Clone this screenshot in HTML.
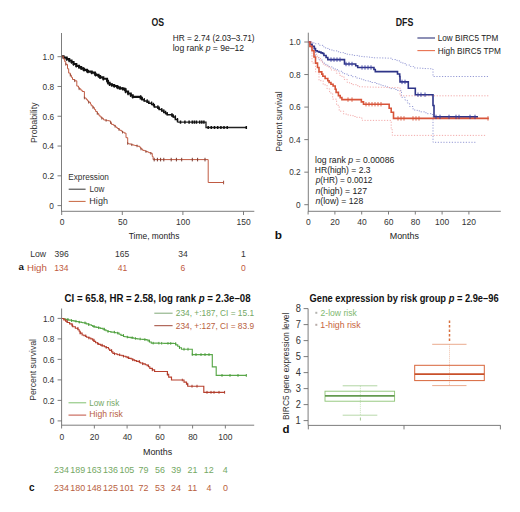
<!DOCTYPE html>
<html><head><meta charset="utf-8"><style>html,body{margin:0;padding:0;background:#fff;}svg{display:block;font-family:"Liberation Sans",sans-serif;}</style></head>
<body><svg width="520" height="512" viewBox="0 0 520 512" font-family="Liberation Sans, sans-serif">
<rect width="520" height="512" fill="#fff"/>
<text x="151.50" y="26.10" font-size="10.8" fill="#1a1a1a" font-weight="bold" textLength="12.59" lengthAdjust="spacingAndGlyphs">OS</text>
<text x="172.71" y="40.50" font-size="8.4" fill="#222" textLength="81.90" lengthAdjust="spacingAndGlyphs">HR = 2.74 (2.03–3.71)</text>
<text x="172.69" y="50.80" font-size="8.4" fill="#222" textLength="71.46" lengthAdjust="spacingAndGlyphs">log rank <tspan font-style="italic">p</tspan> = 9e–12</text>
<line x1="61.50" y1="33.00" x2="61.50" y2="211.50" stroke="#6e6e6e" stroke-width="0.9"/>
<line x1="57.50" y1="56.70" x2="61.50" y2="56.70" stroke="#6e6e6e" stroke-width="0.9"/>
<text x="42.60" y="60.00" font-size="9.8" fill="#333" textLength="11.51" lengthAdjust="spacingAndGlyphs">1.0</text>
<line x1="57.50" y1="86.48" x2="61.50" y2="86.48" stroke="#6e6e6e" stroke-width="0.9"/>
<text x="42.60" y="89.78" font-size="9.8" fill="#333" textLength="11.51" lengthAdjust="spacingAndGlyphs">0.8</text>
<line x1="57.50" y1="116.26" x2="61.50" y2="116.26" stroke="#6e6e6e" stroke-width="0.9"/>
<text x="42.60" y="119.56" font-size="9.8" fill="#333" textLength="11.51" lengthAdjust="spacingAndGlyphs">0.6</text>
<line x1="57.50" y1="146.04" x2="61.50" y2="146.04" stroke="#6e6e6e" stroke-width="0.9"/>
<text x="42.39" y="149.34" font-size="9.8" fill="#333" textLength="11.51" lengthAdjust="spacingAndGlyphs">0.4</text>
<line x1="57.50" y1="175.82" x2="61.50" y2="175.82" stroke="#6e6e6e" stroke-width="0.9"/>
<text x="42.60" y="179.12" font-size="9.8" fill="#333" textLength="11.51" lengthAdjust="spacingAndGlyphs">0.2</text>
<line x1="57.50" y1="205.60" x2="61.50" y2="205.60" stroke="#6e6e6e" stroke-width="0.9"/>
<text x="49.36" y="208.90" font-size="9.8" fill="#333" textLength="4.61" lengthAdjust="spacingAndGlyphs">0</text>
<line x1="61.20" y1="211.30" x2="254.30" y2="211.30" stroke="#6e6e6e" stroke-width="0.9"/>
<line x1="61.70" y1="211.30" x2="61.70" y2="215.00" stroke="#6e6e6e" stroke-width="0.9"/>
<text x="59.72" y="225.30" font-size="9.4" fill="#333" textLength="4.73" lengthAdjust="spacingAndGlyphs">0</text>
<line x1="122.30" y1="211.30" x2="122.30" y2="215.00" stroke="#6e6e6e" stroke-width="0.9"/>
<text x="117.94" y="225.30" font-size="9.4" fill="#333" textLength="9.46" lengthAdjust="spacingAndGlyphs">50</text>
<line x1="182.90" y1="211.30" x2="182.90" y2="215.00" stroke="#6e6e6e" stroke-width="0.9"/>
<text x="175.94" y="225.30" font-size="9.4" fill="#333" textLength="14.18" lengthAdjust="spacingAndGlyphs">100</text>
<line x1="243.50" y1="211.30" x2="243.50" y2="215.00" stroke="#6e6e6e" stroke-width="0.9"/>
<text x="236.54" y="225.30" font-size="9.4" fill="#333" textLength="14.18" lengthAdjust="spacingAndGlyphs">150</text>
<text x="128.78" y="238.65" font-size="9.4" fill="#222" textLength="50.59" lengthAdjust="spacingAndGlyphs">Time, months</text>
<text x="36.70" y="143.05" font-size="8.7" fill="#333" textLength="40.61" lengthAdjust="spacingAndGlyphs" transform="rotate(-90 36.70 143.05)">Probability</text>
<text x="68.26" y="179.50" font-size="8.4" fill="#333" textLength="40.67" lengthAdjust="spacingAndGlyphs">Expression</text>
<line x1="68.70" y1="189.20" x2="85.60" y2="189.20" stroke="#333" stroke-width="1.0"/>
<text x="89.42" y="191.90" font-size="8.4" fill="#333" textLength="14.86" lengthAdjust="spacingAndGlyphs">Low</text>
<line x1="68.70" y1="201.40" x2="85.60" y2="201.40" stroke="#c8653f" stroke-width="1.0"/>
<text x="89.36" y="204.00" font-size="8.4" fill="#333" textLength="18.56" lengthAdjust="spacingAndGlyphs">High</text>
<text x="30.16" y="256.70" font-size="8.8" fill="#333" textLength="15.98" lengthAdjust="spacingAndGlyphs">Low</text>
<text x="26.97" y="270.80" font-size="8.8" fill="#c05a40" textLength="19.93" lengthAdjust="spacingAndGlyphs">High</text>
<text x="18.53" y="270.00" font-size="9" fill="#111" font-weight="bold" textLength="5.42" lengthAdjust="spacingAndGlyphs">a</text>
<text x="54.57" y="256.60" font-size="9.9" fill="#333" textLength="14.24" lengthAdjust="spacingAndGlyphs">396</text>
<text x="54.36" y="270.70" font-size="9.9" fill="#c05a40" textLength="14.24" lengthAdjust="spacingAndGlyphs">134</text>
<text x="114.96" y="256.60" font-size="9.9" fill="#333" textLength="14.24" lengthAdjust="spacingAndGlyphs">165</text>
<text x="117.66" y="270.70" font-size="9.9" fill="#c05a40" textLength="9.49" lengthAdjust="spacingAndGlyphs">41</text>
<text x="178.15" y="256.60" font-size="9.9" fill="#333" textLength="9.49" lengthAdjust="spacingAndGlyphs">34</text>
<text x="180.42" y="270.70" font-size="9.9" fill="#c05a40" textLength="4.75" lengthAdjust="spacingAndGlyphs">6</text>
<text x="241.02" y="256.60" font-size="9.9" fill="#333" textLength="4.75" lengthAdjust="spacingAndGlyphs">1</text>
<text x="241.12" y="270.70" font-size="9.9" fill="#c05a40" textLength="4.75" lengthAdjust="spacingAndGlyphs">0</text>
<path d="M61.90,56.25 L63.55,56.25 L63.55,57.67 L66.70,57.67 L66.70,59.10 L69.23,59.10 L69.23,60.55 L71.50,60.55 L71.50,62.00 L73.53,62.00 L73.53,63.95 L76.30,63.95 L76.30,65.90 L79.06,65.90 L79.06,67.10 L81.20,67.10 L81.20,68.30 L83.39,68.30 L83.39,69.10 L84.01,69.10 L84.01,69.90 L86.90,69.90 L86.90,70.70 L87.90,70.70 L87.90,71.65 L91.70,71.65 L91.70,72.60 L94.88,72.60 L94.88,73.73 L95.58,73.73 L95.58,74.87 L98.50,74.87 L98.50,76.00 L100.13,76.00 L100.13,77.40 L103.30,77.40 L103.30,78.80 L107.05,78.80 L107.05,80.75 L108.00,80.75 L108.00,82.70 L109.60,82.70 L109.60,84.20 L111.82,84.20 L111.82,85.10 L114.20,85.10 L114.20,86.00 L116.91,86.00 L116.91,86.77 L118.01,86.77 L118.01,87.53 L120.00,87.53 L120.00,88.30 L122.68,88.30 L122.68,88.85 L124.60,88.85 L124.60,89.40 L125.62,89.40 L125.62,91.45 L128.10,91.45 L128.10,93.50 L130.77,93.50 L130.77,95.20 L132.70,95.20 L132.70,96.90 L137.30,96.90 L140.62,96.90 L140.62,98.35 L141.90,98.35 L141.90,99.80" fill="none" stroke="#111" stroke-width="2.1" stroke-linejoin="miter"/>
<path d="M141.90,98.35 L141.90,99.80 L144.26,99.80 L144.26,100.97 L147.17,100.97 L147.17,102.13 L148.80,102.13 L148.80,103.30 L151.63,103.30 L151.63,104.45 L153.50,104.45 L153.50,105.60 L154.41,105.60 L154.41,106.93 L157.89,106.93 L157.89,108.27 L159.20,108.27 L159.20,109.60 L161.75,109.60 L161.75,111.05 L163.80,111.05 L163.80,112.50 L165.61,112.50 L165.61,113.62 L167.21,113.62 L167.21,114.75 L171.97,114.75 L171.97,115.88 L173.30,115.88 L173.30,117.00 L175.33,117.00 L175.33,119.60 L177.50,119.60 L177.50,122.20" fill="none" stroke="#161616" stroke-width="1.5" stroke-linejoin="miter"/>
<path d="M177.50,122.20 L206.00,122.20 L206.00,127.50 L246.30,127.50" fill="none" stroke="#222" stroke-width="1.3" stroke-linejoin="miter"/>
<path d="M66.70,57.40v3.40M69.23,58.85v3.40M71.50,60.30v3.40M73.53,62.25v3.40M76.30,64.20v3.40M79.06,65.40v3.40M81.20,66.60v3.40M83.39,67.40v3.40M84.01,68.20v3.40M86.90,69.00v3.40M87.90,69.95v3.40M91.70,70.90v3.40M94.88,72.03v3.40M95.58,73.17v3.40M98.50,74.30v3.40M100.13,75.70v3.40M103.30,77.10v3.40M107.05,79.05v3.40M108.00,81.00v3.40M109.60,82.50v3.40M111.82,83.40v3.40M114.20,84.30v3.40M116.91,85.07v3.40M118.01,85.83v3.40M120.00,86.60v3.40M122.68,87.15v3.40M124.60,87.70v3.40M125.62,89.75v3.40M128.10,91.80v3.40M130.77,93.50v3.40M132.70,95.20v3.40M140.62,95.20v3.40M141.90,96.65v3.40" stroke="#111" stroke-width="1.3" fill="none"/>
<path d="M141.90,96.65v3.40M144.26,98.10v3.40M147.17,99.27v3.40M148.80,100.43v3.40M151.63,101.60v3.40M153.50,102.75v3.40M154.41,103.90v3.40M157.89,105.23v3.40M159.20,106.57v3.40M161.75,107.90v3.40M163.80,109.35v3.40M165.61,110.80v3.40M167.21,111.92v3.40M171.97,113.05v3.40M173.30,114.17v3.40M175.33,115.30v3.40M177.50,117.90v3.40" stroke="#111" stroke-width="1.2" fill="none"/>
<path d="M62.00,56.25 L63.36,56.25 L63.36,58.97 L64.72,58.97 L64.72,61.68 L65.80,61.68 L65.80,64.40 L67.51,64.40 L67.51,68.75 L68.70,68.75 L68.70,73.10 L70.30,73.10 L70.30,75.23 L71.42,75.23 L71.42,77.37 L72.50,77.37 L72.50,79.50 L74.70,79.50 L74.70,80.80 L76.80,80.80 L76.80,86.10 L78.49,86.10 L78.49,87.45 L79.12,87.45 L79.12,88.80 L80.82,88.80 L80.82,90.15 L82.20,90.15 L82.20,91.50 L84.40,91.50 L84.40,98.00 L86.21,98.00 L86.21,99.43 L87.39,99.43 L87.39,100.87 L88.70,100.87 L88.70,102.30 L90.48,102.30 L90.48,104.07 L91.23,104.07 L91.23,105.83 L93.00,105.83 L93.00,107.60 L94.41,107.60 L94.41,109.57 L95.65,109.57 L95.65,111.53 L97.30,111.53 L97.30,113.50 L98.69,113.50 L98.69,115.20 L100.00,115.20 L100.00,116.90 L101.83,116.90 L101.83,118.35 L103.50,118.35 L103.50,119.80 L104.51,119.80 L104.51,120.10 L106.11,120.10 L106.11,120.40 L107.59,120.40 L107.59,120.70 L109.20,120.70 L109.20,121.00 L110.64,121.00 L110.64,122.70 L111.50,122.70 L111.50,124.40 L113.53,124.40 L113.53,125.30 L115.00,125.30 L115.00,126.20 L115.92,126.20 L115.92,127.35 L117.30,127.35 L117.30,128.50 L118.93,128.50 L118.93,129.42 L119.76,129.42 L119.76,130.34 L121.54,130.34 L121.54,131.26 L122.51,131.26 L122.51,132.18 L124.20,132.18 L124.20,133.10 L126.00,133.10 L126.00,137.70 L127.70,137.70 L127.70,143.50 L128.72,143.50 L128.72,143.93 L130.92,143.93 L130.92,144.35 L131.80,144.35 L131.80,144.77 L133.50,144.77 L133.50,145.20 L134.77,145.20 L134.77,145.57 L137.01,145.57 L137.01,145.93 L138.10,145.93 L138.10,146.30 L139.98,146.30 L139.98,147.67 L140.97,147.67 L140.97,149.03 L142.70,149.03 L142.70,150.40 L144.77,150.40 L144.77,150.98 L145.98,150.98 L145.98,151.56 L147.73,151.56 L147.73,152.14 L148.89,152.14 L148.89,152.72 L150.80,152.72 L150.80,153.30 L152.25,153.30 L152.25,156.45 L153.10,156.45 L153.10,159.60 L208.20,159.60 L208.20,182.50 L223.60,182.50" fill="none" stroke="#c05a42" stroke-width="1.0" stroke-linejoin="miter"/>
<path d="M65.80,63.10v2.60M70.30,73.93v2.60M74.70,79.50v2.60M79.12,87.50v2.60M84.40,96.70v2.60M88.70,101.00v2.60M93.00,106.30v2.60M97.30,112.20v2.60M101.83,117.05v2.60M106.11,119.10v2.60M110.64,121.40v2.60M115.00,124.90v2.60M118.93,128.12v2.60M122.51,130.88v2.60M127.70,142.20v2.60M131.80,143.47v2.60M137.01,144.63v2.60M140.97,147.73v2.60M145.98,150.26v2.60M150.80,152.00v2.60" stroke="#8a4535" stroke-width="0.9" fill="none"/>
<path d="M154.20,157.80v3.60M157.40,157.80v3.60M160.60,157.80v3.60M163.80,157.80v3.60M171.20,157.80v3.60M176.40,157.80v3.60M181.70,157.80v3.60M192.30,157.80v3.60M197.60,157.80v3.60M205.00,157.80v3.60" stroke="#7a3a30" stroke-width="1.0" fill="none"/>
<path d="M223.60,180.70v3.60" stroke="#a05040" stroke-width="1.0" fill="none"/>
<path d="M180.50,120.60v3.20M184.90,120.60v3.20M189.10,120.60v3.20M192.30,120.60v3.20M194.40,120.60v3.20M196.50,120.60v3.20M199.70,120.60v3.20M201.80,120.60v3.20M203.90,120.60v3.20" stroke="#111" stroke-width="1.5" fill="none"/>
<path d="M208.20,125.90v3.20M211.30,125.90v3.20M214.50,125.90v3.20M217.70,125.90v3.20M220.90,125.90v3.20M224.00,125.90v3.20M227.20,125.90v3.20M246.30,125.90v3.20" stroke="#111" stroke-width="1.5" fill="none"/>
<text x="395.68" y="25.70" font-size="10.6" fill="#1a1a1a" font-weight="bold" textLength="17.58" lengthAdjust="spacingAndGlyphs">DFS</text>
<line x1="308.30" y1="32.70" x2="308.30" y2="211.30" stroke="#6e6e6e" stroke-width="0.9"/>
<line x1="304.30" y1="42.00" x2="308.30" y2="42.00" stroke="#6e6e6e" stroke-width="0.9"/>
<text x="289.20" y="45.30" font-size="9.8" fill="#333" textLength="11.51" lengthAdjust="spacingAndGlyphs">1.0</text>
<line x1="304.30" y1="74.54" x2="308.30" y2="74.54" stroke="#6e6e6e" stroke-width="0.9"/>
<text x="289.20" y="77.84" font-size="9.8" fill="#333" textLength="11.51" lengthAdjust="spacingAndGlyphs">0.8</text>
<line x1="304.30" y1="107.08" x2="308.30" y2="107.08" stroke="#6e6e6e" stroke-width="0.9"/>
<text x="289.20" y="110.38" font-size="9.8" fill="#333" textLength="11.51" lengthAdjust="spacingAndGlyphs">0.6</text>
<line x1="304.30" y1="139.62" x2="308.30" y2="139.62" stroke="#6e6e6e" stroke-width="0.9"/>
<text x="288.99" y="142.92" font-size="9.8" fill="#333" textLength="11.51" lengthAdjust="spacingAndGlyphs">0.4</text>
<line x1="304.30" y1="172.16" x2="308.30" y2="172.16" stroke="#6e6e6e" stroke-width="0.9"/>
<text x="289.20" y="175.46" font-size="9.8" fill="#333" textLength="11.51" lengthAdjust="spacingAndGlyphs">0.2</text>
<line x1="304.30" y1="204.70" x2="308.30" y2="204.70" stroke="#6e6e6e" stroke-width="0.9"/>
<text x="295.96" y="208.00" font-size="9.8" fill="#333" textLength="4.61" lengthAdjust="spacingAndGlyphs">0</text>
<line x1="308.00" y1="211.30" x2="500.80" y2="211.30" stroke="#6e6e6e" stroke-width="0.9"/>
<line x1="308.10" y1="211.30" x2="308.10" y2="214.50" stroke="#6e6e6e" stroke-width="0.9"/>
<text x="306.02" y="225.30" font-size="9.4" fill="#333" textLength="4.73" lengthAdjust="spacingAndGlyphs">0</text>
<line x1="334.90" y1="211.30" x2="334.90" y2="214.50" stroke="#6e6e6e" stroke-width="0.9"/>
<text x="330.33" y="225.30" font-size="9.4" fill="#333" textLength="9.46" lengthAdjust="spacingAndGlyphs">20</text>
<line x1="361.70" y1="211.30" x2="361.70" y2="214.50" stroke="#6e6e6e" stroke-width="0.9"/>
<text x="357.24" y="225.30" font-size="9.4" fill="#333" textLength="9.46" lengthAdjust="spacingAndGlyphs">40</text>
<line x1="388.50" y1="211.30" x2="388.50" y2="214.50" stroke="#6e6e6e" stroke-width="0.9"/>
<text x="383.93" y="225.30" font-size="9.4" fill="#333" textLength="9.46" lengthAdjust="spacingAndGlyphs">60</text>
<line x1="415.30" y1="211.30" x2="415.30" y2="214.50" stroke="#6e6e6e" stroke-width="0.9"/>
<text x="410.84" y="225.30" font-size="9.4" fill="#333" textLength="9.46" lengthAdjust="spacingAndGlyphs">80</text>
<line x1="442.10" y1="211.30" x2="442.10" y2="214.50" stroke="#6e6e6e" stroke-width="0.9"/>
<text x="435.04" y="225.30" font-size="9.4" fill="#333" textLength="14.18" lengthAdjust="spacingAndGlyphs">100</text>
<line x1="468.90" y1="211.30" x2="468.90" y2="214.50" stroke="#6e6e6e" stroke-width="0.9"/>
<text x="461.84" y="225.30" font-size="9.4" fill="#333" textLength="14.18" lengthAdjust="spacingAndGlyphs">120</text>
<text x="389.68" y="239.00" font-size="9.4" fill="#222" textLength="29.35" lengthAdjust="spacingAndGlyphs">Months</text>
<text x="282.20" y="151.73" font-size="8.7" fill="#333" textLength="60.38" lengthAdjust="spacingAndGlyphs" transform="rotate(-90 282.20 151.73)">Percent survival</text>
<text x="274.70" y="238.60" font-size="11" fill="#111" font-weight="bold" textLength="7.22" lengthAdjust="spacingAndGlyphs">b</text>
<line x1="417.40" y1="38.00" x2="435.00" y2="38.00" stroke="#30357a" stroke-width="1.1"/>
<text x="437.79" y="41.00" font-size="8.6" fill="#222" textLength="60.57" lengthAdjust="spacingAndGlyphs">Low BIRC5 TPM</text>
<line x1="417.40" y1="50.60" x2="435.00" y2="50.60" stroke="#e8704e" stroke-width="1.1"/>
<text x="437.78" y="53.50" font-size="8.6" fill="#222" textLength="63.14" lengthAdjust="spacingAndGlyphs">High BIRC5 TPM</text>
<text x="315.02" y="162.70" font-size="9.1" fill="#222" textLength="79.27" lengthAdjust="spacingAndGlyphs">log rank <tspan font-style="italic">p</tspan> = 0.00086</text>
<text x="314.80" y="172.90" font-size="9.1" fill="#222" textLength="55.77" lengthAdjust="spacingAndGlyphs">HR(high) = 2.3</text>
<text x="315.73" y="183.40" font-size="9.1" fill="#222" textLength="56.57" lengthAdjust="spacingAndGlyphs"><tspan font-style="italic">p</tspan>(HR) = 0.0012</text>
<text x="315.50" y="193.60" font-size="9.1" fill="#222" textLength="51.54" lengthAdjust="spacingAndGlyphs"><tspan font-style="italic">n</tspan>(high) = 127</text>
<text x="315.50" y="204.10" font-size="9.1" fill="#222" textLength="47.70" lengthAdjust="spacingAndGlyphs"><tspan font-style="italic">n</tspan>(low) = 128</text>
<path d="M308.50,42.00 L312.05,42.00 L312.05,42.90 L315.50,42.90 L315.50,43.80 L319.67,43.80 L319.67,45.35 L323.52,45.35 L323.52,46.90 L325.63,46.90 L325.63,48.45 L329.60,48.45 L329.60,50.00 L333.69,50.00 L333.69,50.88 L337.08,50.88 L337.08,51.75 L340.52,51.75 L340.52,52.62 L343.70,52.62 L343.70,53.50 L346.38,53.50 L346.38,54.15 L349.71,54.15 L349.71,54.80 L353.96,54.80 L353.96,55.45 L357.70,55.45 L357.70,56.10 L361.33,56.10 L361.33,56.44 L363.55,56.44 L363.55,56.78 L367.18,56.78 L367.18,57.12 L369.99,57.12 L369.99,57.46 L373.50,57.46 L373.50,57.80 L377.49,57.80 L377.49,57.88 L380.98,57.88 L380.98,57.96 L383.21,57.96 L383.21,58.04 L387.69,58.04 L387.69,58.12 L390.00,58.12 L390.00,58.20 L392.38,58.20 L392.38,59.55 L397.05,59.55 L397.05,60.90 L400.40,60.90 L400.40,62.25 L402.90,62.25 L402.90,63.60 L405.72,63.60 L405.72,65.03 L410.47,65.03 L410.47,66.47 L413.60,66.47 L413.60,67.90 L417.39,67.90 L417.39,68.12 L421.92,68.12 L421.92,68.34 L423.94,68.34 L423.94,68.56 L428.33,68.56 L428.33,68.78 L431.90,68.78 L431.90,69.00 L433.00,69.00 L433.00,76.50 L488.80,76.50" fill="none" stroke="#8a8fd0" stroke-width="0.9" stroke-linejoin="miter" stroke-dasharray="1.2,1.6"/>
<path d="M308.50,42.00 L312.05,42.00 L312.05,49.90 L315.50,49.90 L315.50,57.80 L319.14,57.80 L319.14,60.00 L322.50,60.00 L322.50,62.20 L324.34,62.20 L324.34,64.40 L327.80,64.40 L327.80,66.60 L331.89,66.60 L331.89,68.15 L335.28,68.15 L335.28,69.70 L338.72,69.70 L338.72,71.25 L341.90,71.25 L341.90,72.80 L344.60,72.80 L344.60,74.10 L347.95,74.10 L347.95,75.40 L352.23,75.40 L352.23,76.70 L356.00,76.70 L356.00,78.00 L359.63,78.00 L359.63,78.90 L361.85,78.90 L361.85,79.80 L365.48,79.80 L365.48,80.70 L368.29,80.70 L368.29,81.60 L371.80,81.60 L371.80,82.50 L375.62,82.50 L375.62,83.54 L378.96,83.54 L378.96,84.58 L381.09,84.58 L381.09,85.62 L385.39,85.62 L385.39,86.66 L387.60,86.66 L387.60,87.70 L389.89,87.70 L389.89,88.60 L394.38,88.60 L394.38,89.50 L396.90,89.50 L396.90,90.40 L401.50,90.40 L401.50,97.30 L405.05,97.30 L405.05,100.15 L407.30,100.15 L407.30,103.00 L409.59,103.00 L409.59,106.50 L413.10,106.50 L413.10,110.00 L417.23,110.00 L417.23,110.92 L420.59,110.92 L420.59,111.84 L425.15,111.84 L425.15,112.76 L427.18,112.76 L427.18,113.68 L431.50,113.68 L431.50,114.60 L433.00,114.60 L433.00,142.30 L476.00,142.30" fill="none" stroke="#8a8fd0" stroke-width="0.9" stroke-linejoin="miter" stroke-dasharray="1.2,1.6"/>
<path d="M308.50,42.00 L311.18,42.00 L311.18,48.15 L313.80,48.15 L313.80,54.30 L317.27,54.30 L317.27,57.53 L320.48,57.53 L320.48,60.77 L322.60,60.77 L322.60,64.00 L325.16,64.00 L325.16,66.03 L328.94,66.03 L328.94,68.07 L331.40,68.07 L331.40,70.10 L336.28,70.10 L336.28,73.20 L340.10,73.20 L340.10,76.30 L343.99,76.30 L343.99,79.40 L347.20,79.40 L347.20,82.50 L349.56,82.50 L349.56,83.58 L352.48,83.58 L352.48,84.65 L356.21,84.65 L356.21,85.72 L359.50,85.72 L359.50,86.80 L363.57,86.80 L363.57,86.89 L366.07,86.89 L366.07,86.98 L370.15,86.98 L370.15,87.07 L373.31,87.07 L373.31,87.16 L377.99,87.16 L377.99,87.25 L381.75,87.25 L381.75,87.34 L384.14,87.34 L384.14,87.43 L388.96,87.43 L388.96,87.52 L390.52,87.52 L390.52,87.61 L395.00,87.61 L395.00,87.70 L400.00,87.70 L400.00,95.80 L489.90,95.80" fill="none" stroke="#f0a0a0" stroke-width="0.9" stroke-linejoin="miter" stroke-dasharray="1.2,1.6"/>
<path d="M308.50,42.00 L312.00,42.00 L312.00,63.10 L315.55,63.10 L315.55,71.90 L319.00,71.90 L319.00,80.70 L323.18,80.70 L323.18,84.80 L327.04,84.80 L327.04,88.90 L329.60,88.90 L329.60,93.00 L332.66,93.00 L332.66,99.15 L336.60,99.15 L336.60,105.30 L339.20,105.30 L339.20,111.20 L343.70,111.20 L343.70,114.10 L347.48,114.10 L347.48,114.90 L350.62,114.90 L350.62,115.70 L353.80,115.70 L353.80,116.50 L355.98,116.50 L355.98,117.30 L360.00,117.30 L360.00,118.10 L362.30,118.10 L362.30,120.40 L386.50,120.40 L391.20,120.40 L391.20,129.60 L392.30,129.60 L392.30,135.40 L486.70,135.40" fill="none" stroke="#f0a0a0" stroke-width="0.9" stroke-linejoin="miter" stroke-dasharray="1.2,1.6"/>
<path d="M308.50,42.00 L310.18,42.00 L310.18,44.20 L312.08,44.20 L312.08,46.40 L314.34,46.40 L314.34,48.60 L315.50,48.60 L315.50,50.80 L317.23,50.80 L317.23,51.47 L319.06,51.47 L319.06,52.15 L320.95,52.15 L320.95,52.83 L322.60,52.83 L322.60,53.50 L323.90,53.50 L323.90,55.53 L326.08,55.53 L326.08,57.57 L327.80,57.57 L327.80,59.60 L341.90,59.60 L344.50,59.60 L344.50,64.00 L353.30,64.00 L355.73,64.00 L355.73,65.75 L357.70,65.75 L357.70,67.50 L371.80,67.50 L373.96,67.50 L373.96,69.55 L375.30,69.55 L375.30,71.60 L396.40,71.60 L397.51,71.60 L397.51,74.05 L399.70,74.05 L399.70,76.50 L400.00,76.50 L400.00,81.90 L407.20,81.90 L408.30,81.90 L408.30,88.30 L414.70,88.30 L415.30,88.30 L415.30,94.70 L431.90,94.70 L433.00,94.70 L433.00,105.50 L434.00,105.50 L434.00,116.90 L478.00,116.90" fill="none" stroke="#2e3488" stroke-width="1.6" stroke-linejoin="miter"/>
<path d="M308.50,42.00 L309.91,42.00 L309.91,46.40 L312.00,46.40 L312.00,50.80 L314.01,50.80 L314.01,56.95 L315.50,56.95 L315.50,63.10 L317.51,63.10 L317.51,67.50 L319.00,67.50 L319.00,71.90 L321.81,71.90 L321.81,74.10 L322.85,74.10 L322.85,76.30 L325.13,76.30 L325.13,78.50 L327.80,78.50 L327.80,80.70 L329.07,80.70 L329.07,82.47 L330.94,82.47 L330.94,84.23 L333.10,84.23 L333.10,86.00 L335.20,86.00 L335.20,89.20 L336.11,89.20 L336.11,92.40 L338.40,92.40 L338.40,95.60 L340.19,95.60 L340.19,97.60 L341.90,97.60 L341.90,99.60 L360.00,99.60 L361.35,99.60 L361.35,101.90 L363.50,101.90 L363.50,104.20 L387.70,104.20 L389.16,104.20 L389.16,108.25 L391.20,108.25 L391.20,112.30 L393.50,112.30 L393.50,118.40 L488.80,118.40" fill="none" stroke="#d8553a" stroke-width="1.6" stroke-linejoin="miter"/>
<path d="M331.00,57.40v4.40M334.00,57.40v4.40M337.00,57.40v4.40M340.00,57.40v4.40M346.00,61.80v4.40M349.00,61.80v4.40M352.00,61.80v4.40M362.00,65.30v4.40M365.00,65.30v4.40M368.00,65.30v4.40M371.00,65.30v4.40M402.00,79.70v4.40M405.00,79.70v4.40M418.00,92.50v4.40M421.00,92.50v4.40M425.00,92.50v4.40M436.00,114.70v4.40M440.00,114.70v4.40M449.00,114.70v4.40M456.00,114.70v4.40M459.00,114.70v4.40M470.00,114.70v4.40M475.00,114.70v4.40" stroke="#3a40a0" stroke-width="0.9" fill="none"/>
<path d="M366.00,102.00v4.40M369.00,102.00v4.40M372.00,102.00v4.40M375.00,102.00v4.40M378.00,102.00v4.40M381.00,102.00v4.40M348.00,97.40v4.40M352.00,97.40v4.40M398.00,116.20v4.40M401.00,116.20v4.40M404.00,116.20v4.40M413.00,116.20v4.40M416.00,116.20v4.40M419.00,116.20v4.40M488.00,116.20v4.40" stroke="#d8553a" stroke-width="0.9" fill="none"/>
<text x="64.61" y="301.70" font-size="10" fill="#111" font-weight="bold" textLength="185.90" lengthAdjust="spacingAndGlyphs">CI = 65.8, HR = 2.58, log rank <tspan font-style="italic">p</tspan> = 2.3e–08</text>
<line x1="61.60" y1="308.50" x2="61.60" y2="425.30" stroke="#6e6e6e" stroke-width="0.9"/>
<line x1="57.60" y1="318.40" x2="61.60" y2="318.40" stroke="#6e6e6e" stroke-width="0.9"/>
<text x="42.90" y="321.80" font-size="9.8" fill="#333" textLength="11.51" lengthAdjust="spacingAndGlyphs">1.0</text>
<line x1="57.60" y1="338.90" x2="61.60" y2="338.90" stroke="#6e6e6e" stroke-width="0.9"/>
<text x="42.90" y="342.30" font-size="9.8" fill="#333" textLength="11.51" lengthAdjust="spacingAndGlyphs">0.8</text>
<line x1="57.60" y1="359.40" x2="61.60" y2="359.40" stroke="#6e6e6e" stroke-width="0.9"/>
<text x="42.90" y="362.80" font-size="9.8" fill="#333" textLength="11.51" lengthAdjust="spacingAndGlyphs">0.6</text>
<line x1="57.60" y1="379.90" x2="61.60" y2="379.90" stroke="#6e6e6e" stroke-width="0.9"/>
<text x="42.69" y="383.30" font-size="9.8" fill="#333" textLength="11.51" lengthAdjust="spacingAndGlyphs">0.4</text>
<line x1="57.60" y1="400.40" x2="61.60" y2="400.40" stroke="#6e6e6e" stroke-width="0.9"/>
<text x="42.90" y="403.80" font-size="9.8" fill="#333" textLength="11.51" lengthAdjust="spacingAndGlyphs">0.2</text>
<line x1="57.60" y1="420.90" x2="61.60" y2="420.90" stroke="#6e6e6e" stroke-width="0.9"/>
<text x="49.66" y="424.30" font-size="9.8" fill="#333" textLength="4.61" lengthAdjust="spacingAndGlyphs">0</text>
<line x1="61.40" y1="425.20" x2="254.20" y2="425.20" stroke="#6e6e6e" stroke-width="0.9"/>
<line x1="61.60" y1="425.20" x2="61.60" y2="428.50" stroke="#6e6e6e" stroke-width="0.9"/>
<text x="59.52" y="440.10" font-size="9.4" fill="#333" textLength="4.73" lengthAdjust="spacingAndGlyphs">0</text>
<line x1="94.35" y1="425.20" x2="94.35" y2="428.50" stroke="#6e6e6e" stroke-width="0.9"/>
<text x="89.78" y="440.10" font-size="9.4" fill="#333" textLength="9.46" lengthAdjust="spacingAndGlyphs">20</text>
<line x1="127.10" y1="425.20" x2="127.10" y2="428.50" stroke="#6e6e6e" stroke-width="0.9"/>
<text x="122.64" y="440.10" font-size="9.4" fill="#333" textLength="9.46" lengthAdjust="spacingAndGlyphs">40</text>
<line x1="159.85" y1="425.20" x2="159.85" y2="428.50" stroke="#6e6e6e" stroke-width="0.9"/>
<text x="155.28" y="440.10" font-size="9.4" fill="#333" textLength="9.46" lengthAdjust="spacingAndGlyphs">60</text>
<line x1="192.60" y1="425.20" x2="192.60" y2="428.50" stroke="#6e6e6e" stroke-width="0.9"/>
<text x="188.14" y="440.10" font-size="9.4" fill="#333" textLength="9.46" lengthAdjust="spacingAndGlyphs">80</text>
<line x1="225.35" y1="425.20" x2="225.35" y2="428.50" stroke="#6e6e6e" stroke-width="0.9"/>
<text x="218.29" y="440.10" font-size="9.4" fill="#333" textLength="14.18" lengthAdjust="spacingAndGlyphs">100</text>
<text x="142.99" y="454.50" font-size="9.4" fill="#222" textLength="29.25" lengthAdjust="spacingAndGlyphs">Months</text>
<text x="36.30" y="400.85" font-size="8.7" fill="#333" textLength="61.91" lengthAdjust="spacingAndGlyphs" transform="rotate(-90 36.30 400.85)">Percent survival</text>
<line x1="154.30" y1="313.20" x2="172.60" y2="313.20" stroke="#80a878" stroke-width="1"/>
<text x="175.77" y="316.10" font-size="9" fill="#74a864" textLength="78.34" lengthAdjust="spacingAndGlyphs">234, +:187, CI = 15.1</text>
<line x1="154.30" y1="325.70" x2="172.60" y2="325.70" stroke="#a04838" stroke-width="1"/>
<text x="175.77" y="328.60" font-size="9" fill="#b8603e" textLength="78.34" lengthAdjust="spacingAndGlyphs">234, +:127, CI = 83.9</text>
<line x1="68.50" y1="402.80" x2="86.20" y2="402.80" stroke="#80c070" stroke-width="1"/>
<text x="89.30" y="405.50" font-size="8.8" fill="#74a864" textLength="29.91" lengthAdjust="spacingAndGlyphs">Low risk</text>
<line x1="68.50" y1="415.10" x2="86.20" y2="415.10" stroke="#c05040" stroke-width="1"/>
<text x="89.27" y="417.40" font-size="8.8" fill="#b8603e" textLength="33.50" lengthAdjust="spacingAndGlyphs">High risk</text>
<text x="54.04" y="472.70" font-size="9.6" fill="#74a864" textLength="14.89" lengthAdjust="spacingAndGlyphs">234</text>
<text x="54.04" y="491.20" font-size="9.6" fill="#b8603e" textLength="14.89" lengthAdjust="spacingAndGlyphs">234</text>
<text x="70.30" y="472.70" font-size="9.6" fill="#74a864" textLength="14.89" lengthAdjust="spacingAndGlyphs">189</text>
<text x="70.30" y="491.20" font-size="9.6" fill="#b8603e" textLength="14.89" lengthAdjust="spacingAndGlyphs">180</text>
<text x="86.68" y="472.70" font-size="9.6" fill="#74a864" textLength="14.89" lengthAdjust="spacingAndGlyphs">163</text>
<text x="86.68" y="491.20" font-size="9.6" fill="#b8603e" textLength="14.89" lengthAdjust="spacingAndGlyphs">148</text>
<text x="103.05" y="472.70" font-size="9.6" fill="#74a864" textLength="14.89" lengthAdjust="spacingAndGlyphs">136</text>
<text x="103.05" y="491.20" font-size="9.6" fill="#b8603e" textLength="14.89" lengthAdjust="spacingAndGlyphs">125</text>
<text x="119.43" y="472.70" font-size="9.6" fill="#74a864" textLength="14.89" lengthAdjust="spacingAndGlyphs">105</text>
<text x="119.43" y="491.20" font-size="9.6" fill="#b8603e" textLength="14.89" lengthAdjust="spacingAndGlyphs">101</text>
<text x="138.48" y="472.70" font-size="9.6" fill="#74a864" textLength="9.92" lengthAdjust="spacingAndGlyphs">79</text>
<text x="138.48" y="491.20" font-size="9.6" fill="#b8603e" textLength="9.92" lengthAdjust="spacingAndGlyphs">72</text>
<text x="154.97" y="472.70" font-size="9.6" fill="#74a864" textLength="9.92" lengthAdjust="spacingAndGlyphs">56</text>
<text x="154.97" y="491.20" font-size="9.6" fill="#b8603e" textLength="9.92" lengthAdjust="spacingAndGlyphs">53</text>
<text x="171.34" y="472.70" font-size="9.6" fill="#74a864" textLength="9.92" lengthAdjust="spacingAndGlyphs">39</text>
<text x="171.11" y="491.20" font-size="9.6" fill="#b8603e" textLength="9.92" lengthAdjust="spacingAndGlyphs">24</text>
<text x="187.60" y="472.70" font-size="9.6" fill="#74a864" textLength="9.92" lengthAdjust="spacingAndGlyphs">21</text>
<text x="187.83" y="491.20" font-size="9.6" fill="#b8603e" textLength="9.27" lengthAdjust="spacingAndGlyphs">11</text>
<text x="203.86" y="472.70" font-size="9.6" fill="#74a864" textLength="9.92" lengthAdjust="spacingAndGlyphs">12</text>
<text x="206.42" y="491.20" font-size="9.6" fill="#b8603e" textLength="4.97" lengthAdjust="spacingAndGlyphs">4</text>
<text x="222.79" y="472.70" font-size="9.6" fill="#74a864" textLength="4.97" lengthAdjust="spacingAndGlyphs">4</text>
<text x="222.91" y="491.20" font-size="9.6" fill="#b8603e" textLength="4.97" lengthAdjust="spacingAndGlyphs">0</text>
<text x="28.95" y="490.50" font-size="10" fill="#111" font-weight="bold" textLength="5.56" lengthAdjust="spacingAndGlyphs">c</text>
<path d="M62.00,318.50 L63.63,318.50 L63.63,318.92 L65.27,318.92 L65.27,319.34 L67.93,319.34 L67.93,319.76 L68.95,319.76 L68.95,320.18 L71.50,320.18 L71.50,320.60 L73.24,320.60 L73.24,320.91 L74.69,320.91 L74.69,321.23 L75.97,321.23 L75.97,321.54 L78.26,321.54 L78.26,321.85 L79.31,321.85 L79.31,322.16 L81.54,322.16 L81.54,322.48 L82.73,322.48 L82.73,322.79 L85.00,322.79 L85.00,323.10 L86.29,323.10 L86.29,323.90 L88.73,323.90 L88.73,324.70 L91.28,324.70 L91.28,325.50 L92.70,325.50 L92.70,326.30 L94.05,326.30 L94.05,326.80 L96.12,326.80 L96.12,327.30 L98.67,327.30 L98.67,327.80 L100.40,327.80 L100.40,328.30 L102.98,328.30 L102.98,329.10 L104.32,329.10 L104.32,329.90 L105.94,329.90 L105.94,330.70 L108.00,330.70 L108.00,331.50 L110.68,331.50 L110.68,331.82 L111.18,331.82 L111.18,332.14 L114.38,332.14 L114.38,332.46 L115.43,332.46 L115.43,332.78 L117.70,332.78 L117.70,333.10 L119.08,333.10 L119.08,334.23 L120.98,334.23 L120.98,335.37 L123.50,335.37 L123.50,336.50 L124.93,336.50 L124.93,336.79 L127.30,336.79 L127.30,337.07 L128.13,337.07 L128.13,337.36 L130.36,337.36 L130.36,337.65 L132.13,337.65 L132.13,337.94 L133.45,337.94 L133.45,338.23 L135.38,338.23 L135.38,338.51 L137.00,338.51 L137.00,338.80 L138.24,338.80 L138.24,339.00 L140.13,339.00 L140.13,339.20 L142.25,339.20 L142.25,339.40 L144.87,339.40 L144.87,339.60 L146.50,339.60 L146.50,339.80 L148.01,339.80 L148.01,340.90 L149.46,340.90 L149.46,342.00 L151.30,342.00 L151.30,343.10 L153.21,343.10 L153.21,343.13 L154.82,343.13 L154.82,343.16 L156.39,343.16 L156.39,343.19 L158.89,343.19 L158.89,343.22 L160.55,343.22 L160.55,343.25 L161.69,343.25 L161.69,343.28 L163.95,343.28 L163.95,343.32 L165.67,343.32 L165.67,343.35 L167.97,343.35 L167.97,343.38 L169.55,343.38 L169.55,343.41 L170.71,343.41 L170.71,343.44 L173.50,343.44 L173.50,343.47 L174.60,343.47 L174.60,343.50 L175.68,343.50 L175.68,344.85 L177.70,344.85 L177.70,346.20 L179.48,346.20 L179.48,347.70 L181.50,347.70 L181.50,349.20 L190.00,349.20 L192.30,349.20 L192.30,354.60 L212.30,354.60 L212.30,366.90 L216.20,366.90 L216.20,375.40 L246.30,375.40" fill="none" stroke="#5aa84a" stroke-width="1.15" stroke-linejoin="miter"/>
<path d="M67.93,318.04v2.60M71.50,319.30v2.60M75.97,319.93v2.60M79.31,320.86v2.60M85.00,321.49v2.60M88.73,323.40v2.60M94.05,325.00v2.60M98.67,326.50v2.60M104.32,327.80v2.60M108.00,330.20v2.60M114.38,330.84v2.60M117.70,331.80v2.60M123.50,334.07v2.60M127.30,335.77v2.60M132.13,336.35v2.60M135.38,337.21v2.60M140.13,337.70v2.60M144.87,338.30v2.60M149.46,339.60v2.60M153.21,341.83v2.60M158.89,341.89v2.60M161.69,341.98v2.60M167.97,342.05v2.60M170.71,342.14v2.60M175.68,342.20v2.60M179.48,346.40v2.60M192.30,353.30v2.60" stroke="#4a9a3a" stroke-width="0.9" fill="none"/>
<path d="M62.00,318.50 L63.84,318.50 L63.84,319.82 L65.61,319.82 L65.61,321.15 L67.15,321.15 L67.15,322.48 L69.60,322.48 L69.60,323.80 L72.08,323.80 L72.08,325.28 L72.68,325.28 L72.68,326.76 L75.36,326.76 L75.36,328.24 L77.89,328.24 L77.89,329.72 L79.20,329.72 L79.20,331.20 L80.16,331.20 L80.16,333.10 L82.10,333.10 L82.10,335.00 L83.92,335.00 L83.92,335.76 L85.74,335.76 L85.74,336.52 L86.68,336.52 L86.68,337.28 L88.89,337.28 L88.89,338.04 L90.80,338.04 L90.80,338.80 L92.66,338.80 L92.66,340.10 L93.94,340.10 L93.94,341.40 L95.60,341.40 L95.60,342.70 L97.68,342.70 L97.68,343.50 L98.65,343.50 L98.65,344.30 L100.53,344.30 L100.53,345.10 L102.12,345.10 L102.12,345.90 L104.44,345.90 L104.44,346.70 L106.20,346.70 L106.20,347.50 L108.44,347.50 L108.44,348.95 L109.67,348.95 L109.67,350.40 L111.59,350.40 L111.59,351.85 L112.90,351.85 L112.90,353.30 L114.50,353.30 L114.50,353.78 L116.78,353.78 L116.78,354.27 L117.64,354.27 L117.64,354.75 L119.67,354.75 L119.67,355.23 L121.98,355.23 L121.98,355.72 L123.50,355.72 L123.50,356.20 L125.77,356.20 L125.77,356.90 L127.23,356.90 L127.23,357.60 L128.64,357.60 L128.64,358.30 L131.20,358.30 L131.20,359.00 L132.76,359.00 L132.76,359.80 L134.59,359.80 L134.59,360.60 L136.61,360.60 L136.61,361.40 L139.34,361.40 L139.34,362.20 L140.32,362.20 L140.32,363.00 L142.70,363.00 L142.70,363.80 L145.23,363.80 L145.23,364.77 L147.15,364.77 L147.15,365.73 L148.50,365.73 L148.50,366.70 L149.81,366.70 L149.81,368.30 L152.37,368.30 L152.37,369.90 L154.60,369.90 L154.60,371.50 L165.40,371.50 L167.42,371.50 L167.42,374.33 L168.69,374.33 L168.69,377.17 L171.50,377.17 L171.50,380.00 L182.30,380.00 L183.99,380.00 L183.99,382.07 L186.49,382.07 L186.49,384.13 L187.70,384.13 L187.70,386.20 L203.80,386.20 L203.80,392.30 L224.60,392.30" fill="none" stroke="#b8402e" stroke-width="1.15" stroke-linejoin="miter"/>
<path d="M67.15,319.85v2.60M72.08,323.98v2.60M77.89,326.94v2.60M80.16,331.80v2.60M85.74,334.46v2.60M88.89,336.74v2.60M93.94,338.80v2.60M97.68,342.20v2.60M102.12,343.80v2.60M106.20,346.20v2.60M111.59,349.10v2.60M114.50,352.48v2.60M119.67,353.45v2.60M123.50,354.90v2.60M128.64,356.30v2.60M132.76,358.50v2.60M139.34,360.10v2.60M142.70,362.50v2.60M148.50,364.43v2.60M152.37,368.60v2.60M167.42,373.03v2.60M182.30,378.70v2.60M187.70,382.83v2.60" stroke="#a8382a" stroke-width="0.9" fill="none"/>
<path d="M196.00,353.20v2.80M201.00,353.20v2.80M205.00,353.20v2.80M209.00,353.20v2.80M222.00,374.00v2.80M230.00,374.00v2.80M238.00,374.00v2.80M246.30,374.00v2.80M184.00,347.80v2.80M188.00,347.80v2.80" stroke="#4a9a3a" stroke-width="1.0" fill="none"/>
<path d="M207.00,390.90v2.80M211.00,390.90v2.80M214.00,390.90v2.80M219.00,390.90v2.80M224.60,390.90v2.80M192.00,384.80v2.80M197.00,384.80v2.80" stroke="#a8382a" stroke-width="1.0" fill="none"/>
<text x="309.47" y="301.60" font-size="10" fill="#111" font-weight="bold" textLength="189.11" lengthAdjust="spacingAndGlyphs">Gene expression by risk group <tspan font-style="italic">p</tspan> = 2.9e–96</text>
<line x1="308.10" y1="308.60" x2="308.10" y2="425.40" stroke="#6e6e6e" stroke-width="0.9"/>
<line x1="303.60" y1="420.60" x2="308.10" y2="420.60" stroke="#6e6e6e" stroke-width="0.9"/>
<text x="295.51" y="424.20" font-size="10.0" fill="#333" textLength="5.17" lengthAdjust="spacingAndGlyphs">1</text>
<line x1="303.60" y1="404.60" x2="308.10" y2="404.60" stroke="#6e6e6e" stroke-width="0.9"/>
<text x="295.63" y="408.20" font-size="10.0" fill="#333" textLength="5.17" lengthAdjust="spacingAndGlyphs">2</text>
<line x1="303.60" y1="388.60" x2="308.10" y2="388.60" stroke="#6e6e6e" stroke-width="0.9"/>
<text x="295.74" y="392.20" font-size="10.0" fill="#333" textLength="5.17" lengthAdjust="spacingAndGlyphs">3</text>
<line x1="303.60" y1="372.60" x2="308.10" y2="372.60" stroke="#6e6e6e" stroke-width="0.9"/>
<text x="295.74" y="376.20" font-size="10.0" fill="#333" textLength="5.17" lengthAdjust="spacingAndGlyphs">4</text>
<line x1="303.60" y1="356.60" x2="308.10" y2="356.60" stroke="#6e6e6e" stroke-width="0.9"/>
<text x="295.63" y="360.20" font-size="10.0" fill="#333" textLength="5.17" lengthAdjust="spacingAndGlyphs">5</text>
<line x1="303.60" y1="340.60" x2="308.10" y2="340.60" stroke="#6e6e6e" stroke-width="0.9"/>
<text x="295.63" y="344.20" font-size="10.0" fill="#333" textLength="5.17" lengthAdjust="spacingAndGlyphs">6</text>
<line x1="303.60" y1="324.60" x2="308.10" y2="324.60" stroke="#6e6e6e" stroke-width="0.9"/>
<text x="295.63" y="328.20" font-size="10.0" fill="#333" textLength="5.17" lengthAdjust="spacingAndGlyphs">7</text>
<line x1="303.60" y1="308.60" x2="308.10" y2="308.60" stroke="#6e6e6e" stroke-width="0.9"/>
<text x="295.74" y="312.20" font-size="10.0" fill="#333" textLength="5.17" lengthAdjust="spacingAndGlyphs">8</text>
<line x1="308.00" y1="425.40" x2="500.60" y2="425.40" stroke="#6e6e6e" stroke-width="0.9"/>
<line x1="308.30" y1="425.40" x2="308.30" y2="429.40" stroke="#6e6e6e" stroke-width="0.9"/>
<line x1="404.00" y1="425.40" x2="404.00" y2="429.40" stroke="#6e6e6e" stroke-width="0.9"/>
<line x1="500.40" y1="425.40" x2="500.40" y2="429.40" stroke="#6e6e6e" stroke-width="0.9"/>
<text x="289.30" y="419.99" font-size="9.0" fill="#333" textLength="107.33" lengthAdjust="spacingAndGlyphs" transform="rotate(-90 289.30 419.99)">BIRC5 gene expression level</text>
<text x="282.53" y="432.90" font-size="10.5" fill="#111" font-weight="bold" textLength="7.01" lengthAdjust="spacingAndGlyphs">d</text>
<rect x="315.3" y="311.8" width="2" height="2" fill="#b4b4b0"/>
<text x="320.56" y="316.10" font-size="8.8" fill="#80b870" textLength="36.25" lengthAdjust="spacingAndGlyphs">2-low risk</text>
<rect x="315.3" y="323.8" width="2" height="2" fill="#b8aca8"/>
<text x="320.30" y="328.10" font-size="8.8" fill="#c8643c" textLength="40.29" lengthAdjust="spacingAndGlyphs">1-high risk</text>
<line x1="360.40" y1="385.80" x2="360.40" y2="415.20" stroke="#b0d4a0" stroke-width="0.7" stroke-dasharray="1,1"/>
<line x1="342.70" y1="385.80" x2="377.30" y2="385.80" stroke="#a8d098" stroke-width="0.9"/>
<line x1="342.70" y1="415.20" x2="377.30" y2="415.20" stroke="#b0d4a0" stroke-width="0.9"/>
<rect x="325" y="391.2" width="69.6" height="10" fill="none" stroke="#8cc474" stroke-width="0.9"/>
<line x1="325.00" y1="395.80" x2="394.60" y2="395.80" stroke="#649a50" stroke-width="1.7"/>
<line x1="360.40" y1="417.50" x2="360.40" y2="420.50" stroke="#a0c890" stroke-width="1"/>
<line x1="449.50" y1="320.50" x2="449.50" y2="343.00" stroke="#d8703f" stroke-width="1.5" stroke-dasharray="2.6,1.9"/>
<line x1="449.50" y1="344.30" x2="449.50" y2="385.60" stroke="#eaa888" stroke-width="0.7" stroke-dasharray="1,1"/>
<line x1="432.20" y1="344.30" x2="466.50" y2="344.30" stroke="#e8a080" stroke-width="0.9"/>
<line x1="432.20" y1="385.60" x2="466.50" y2="385.60" stroke="#e8a080" stroke-width="0.9"/>
<rect x="414.7" y="365.3" width="69.6" height="15.3" fill="none" stroke="#d8653a" stroke-width="1"/>
<line x1="414.70" y1="374.20" x2="484.30" y2="374.20" stroke="#c8502a" stroke-width="1.8"/>
</svg></body></html>
